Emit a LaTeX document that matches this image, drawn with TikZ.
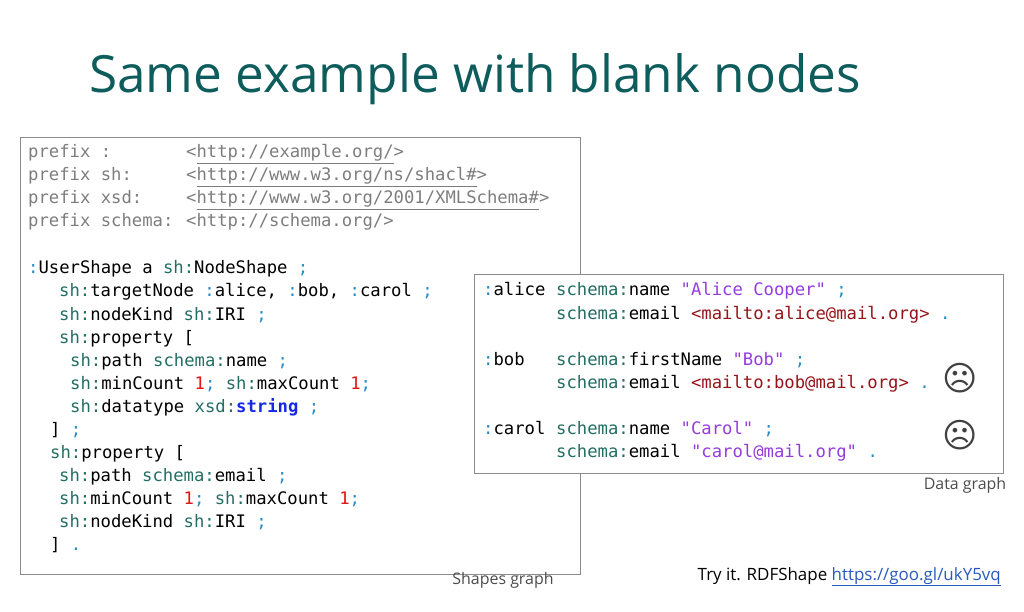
\documentclass[tikz,border=0pt]{standalone}
\usepackage{fontspec}
\setmainfont{Open Sans}
\newfontfamily\codefont{DejaVu Sans Mono}
\newfontfamily\symfont{DejaVu Sans}
\definecolor{ttl}{RGB}{14,92,92}
\definecolor{tealc}{RGB}{35,110,100}
\definecolor{colc}{RGB}{40,140,200}
\definecolor{grayc}{RGB}{125,125,125}
\definecolor{redc}{RGB}{230,20,20}
\definecolor{bluec}{RGB}{20,40,230}
\definecolor{purc}{RGB}{150,60,220}
\definecolor{drc}{RGB}{150,20,25}
\definecolor{boxc}{RGB}{140,140,140}
\definecolor{linkc}{RGB}{40,90,190}
\newcommand{\Tl}[1]{\textcolor{tealc}{#1}}
\newcommand{\Cl}[1]{\textcolor{colc}{#1}}
\newcommand{\Rd}[1]{\textcolor{redc}{#1}}
\newcommand{\Pu}[1]{\textcolor{purc}{#1}}
\newcommand{\Dr}[1]{\textcolor{drc}{#1}}
\newcommand{\Gu}[1]{\underline{#1}}
\begin{document}
\begin{tikzpicture}[x=1bp,y=-1bp,
  code/.style={anchor=base west,inner sep=0pt,font=\codefont\fontsize{17.3}{18}\selectfont},
  pre/.style={code,text=grayc},
  lbl/.style={inner sep=0pt,font=\fontsize{16}{18}\selectfont,text=black!70}]
\useasboundingbox (0,0) rectangle (1024,612);
\node[anchor=base west,inner sep=0pt,text=ttl,font=\fontsize{51.5}{60}\selectfont] (title) at (89,93) {Same example with blank nodes};
\node[draw=boxc,line width=0.8bp,minimum width=560bp,minimum height=437bp,anchor=north west,inner sep=0pt] (shbox) at (20,137) {};
% prefixes
\node[pre] (p1) at (28,158) {prefix :};
\node[pre] (u1) at (186,158) {<\Gu{http://example.org/}>};
\node[pre] (p2) at (28,181) {prefix sh:};
\node[pre] (u2) at (186,181) {<\Gu{http://www.w3.org/ns/shacl\#}>};
\node[pre] (p3) at (28,204) {prefix xsd:};
\node[pre] (u3) at (186,204) {<\Gu{http://www.w3.org/2001/XMLSchema\#}>};
\node[pre] (p4) at (28,227) {prefix schema:};
\node[pre] (u4) at (186,227) {<http://schema.org/>};
% shape
\node[code] (l1) at (28,274) {\Cl{:}UserShape a \Tl{sh:}NodeShape \Cl{;}};
\node[code] (l2) at (59,297) {\Tl{sh:}targetNode \Cl{:}alice, \Cl{:}bob, \Cl{:}carol \Cl{;}};
\node[code] (l3) at (59,320) {\Tl{sh:}nodeKind \Tl{sh:}IRI \Cl{;}};
\node[code] (l4) at (59,343) {\Tl{sh:}property [};
\node[code] (l5) at (70,366) {\Tl{sh:}path \Tl{schema:}name \Cl{;}};
\node[code] (l6) at (70,389) {\Tl{sh:}minCount \Rd{1}\Cl{;} \Tl{sh:}maxCount \Rd{1}\Cl{;}};
\node[code] (l7) at (70,412) {\Tl{sh:}datatype \Tl{xsd:}\textcolor{bluec}{\bfseries string} \Cl{;}};
\node[code] (l8) at (50,435) {] \Cl{;}};
\node[code] (l9) at (50,458) {\Tl{sh:}property [};
\node[code] (l10) at (59,481) {\Tl{sh:}path \Tl{schema:}email \Cl{;}};
\node[code] (l11) at (59,504) {\Tl{sh:}minCount \Rd{1}\Cl{;} \Tl{sh:}maxCount \Rd{1}\Cl{;}};
\node[code] (l12) at (59,527) {\Tl{sh:}nodeKind \Tl{sh:}IRI \Cl{;}};
\node[code] (l13) at (50,550) {] \Cl{.}};
\node[lbl,anchor=center] (shl) at (503,580) {Shapes graph};
% data box
\node[draw=boxc,fill=white,line width=0.8bp,minimum width=529bp,minimum height=199bp,anchor=north west,inner sep=0pt] (dbox) at (474,274) {};
\node[code] (a1) at (483,296) {\Cl{:}alice};
\node[code] (a2) at (556,296) {\Tl{schema:}name \Pu{"Alice Cooper"} \Cl{;}};
\node[code] (a3) at (556,319) {\Tl{schema:}email \Dr{<mailto:alice@mail.org>} \Cl{.}};
\node[code] (b1) at (483,365) {\Cl{:}bob};
\node[code] (b2) at (556,365) {\Tl{schema:}firstName \Pu{"Bob"} \Cl{;}};
\node[code] (b3) at (556,388) {\Tl{schema:}email \Dr{<mailto:bob@mail.org>} \Cl{.}};
\node[code] (c1) at (483,434) {\Cl{:}carol};
\node[code] (c2) at (556,434) {\Tl{schema:}name \Pu{"Carol"} \Cl{;}};
\node[code] (c3) at (556,457) {\Tl{schema:}email \Pu{"carol@mail.org"} \Cl{.}};
\node[inner sep=0pt,text=black!75,font=\symfont\fontsize{34}{34}\selectfont] (f1) at (960,378) {☹};
\node[inner sep=0pt,text=black!75,font=\symfont\fontsize{34}{34}\selectfont] (f2) at (960,435) {☹};
\node[lbl,anchor=center] (dl) at (965,485) {Data graph};
\node[anchor=base east,inner sep=0pt,font=\fontsize{17}{19}\selectfont] (try) at (1001,580) {Try it. RDFShape \textcolor{linkc}{\underline{https://goo.gl/ukY5vq}}};
\end{tikzpicture}
\end{document}
